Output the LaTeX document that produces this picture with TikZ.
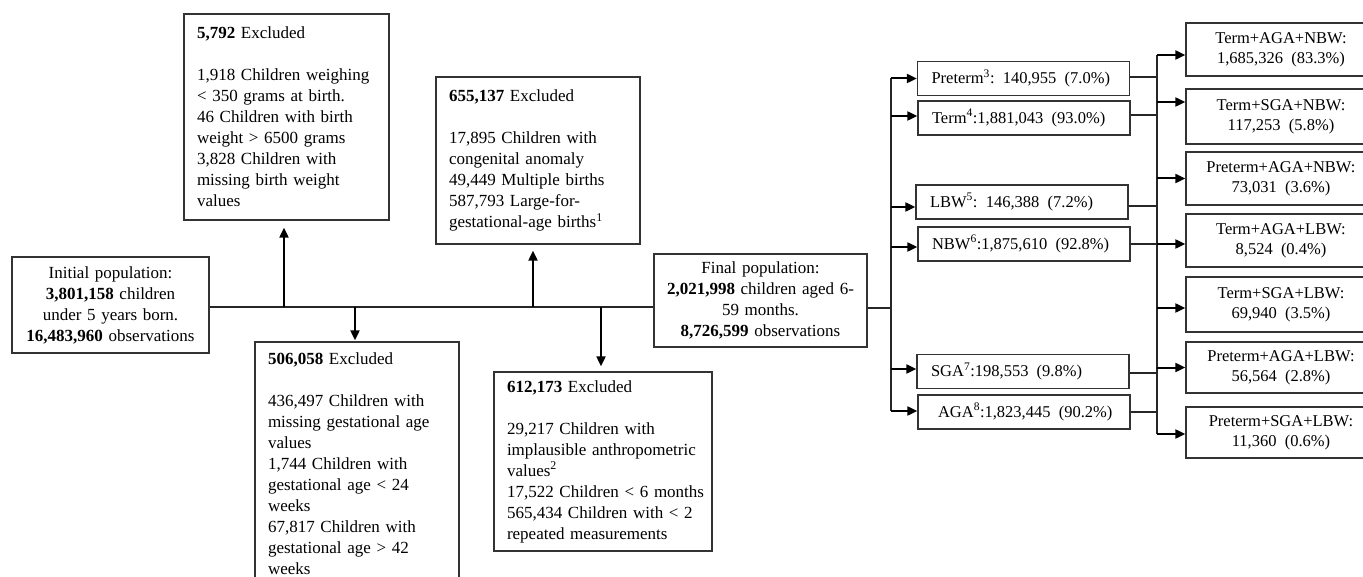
\documentclass[tikz,border=0pt]{standalone}
\usepackage{fontspec}
\setmainfont{Liberation Serif}
\usetikzlibrary{arrows.meta}
\begin{document}
\begin{tikzpicture}[x=1pt,y=-1pt,
  every node/.style={font=\fontsize{17}{21}\selectfont, text=black},
  box/.style={draw=black!80, line width=1.3pt, rectangle, inner ysep=0pt},
  exbox/.style={box, align=left, inner xsep=13pt},
  popbox/.style={box, align=center, inner xsep=4pt},
  midbox/.style={box, align=left, text width=184pt, inner xsep=14pt, minimum height=34pt, font=\fontsize{16.5}{20}\selectfont},
  rbox/.style={box, align=center, text width=182pt, inner xsep=4pt, minimum height=53pt, font=\fontsize{16.5}{20}\selectfont},
  ln/.style={draw=black!85, line width=1.2pt},
  arr/.style={draw=black, line width=2pt, -{Triangle[length=10pt,width=9pt]}}
]
\useasboundingbox (0,0) rectangle (1363,577);
\clip (0,0) rectangle (1363,577);

% population boxes
\node[popbox, text width=189pt, minimum height=96pt] (init) at (110.5,305)
  {Initial population:\\\textbf{3,801,158} children\\under 5 years born.\\\textbf{16,483,960} observations};
\node[popbox, text width=205pt, minimum height=93pt] (final) at (760.5,300.5)
  {Final population:\\\textbf{2,021,998} children aged 6-\\59 months.\\\textbf{8,726,599} observations};

% exclusion boxes
\node[exbox, text width=179pt, minimum height=206pt] (ex1) at (286.5,117)
  {\textbf{5,792} Excluded\\\mbox{}\\\mbox{1,918 Children weighing}\\\mbox{< 350 grams at birth.}\\\mbox{46 Children with birth}\\\mbox{weight > 6500 grams}\\\mbox{3,828 Children with}\\\mbox{missing birth weight}\\values};
\node[exbox, text width=178pt, minimum height=167pt] (ex2) at (538,160.5)
  {\textbf{655,137} Excluded\\\mbox{}\\\mbox{17,895 Children with}\\\mbox{congenital anomaly}\\\mbox{49,449 Multiple births}\\\mbox{587,793 Large-for-}\\\mbox{gestational-age births\textsuperscript{1}}};
\node[exbox, text width=178pt, minimum height=244pt] (ex3) at (357,464)
  {\textbf{506,058} Excluded\\\mbox{}\\\mbox{436,497 Children with}\\\mbox{missing gestational age}\\values\\\mbox{1,744 Children with}\\\mbox{gestational age < 24}\\weeks\\\mbox{67,817 Children with}\\\mbox{gestational age > 42}\\weeks};
\node[exbox, text width=192pt, minimum height=179pt] (ex4) at (603,461.5)
  {\textbf{612,173} Excluded\\\mbox{}\\\mbox{29,217 Children with}\\\mbox{implausible anthropometric}\\\mbox{values\textsuperscript{2}}\\\mbox{17,522 Children < 6 months}\\\mbox{565,434 Children with < 2}\\\mbox{repeated measurements}};

% middle boxes
\node[midbox] (pre)  at (1023.5,78.5) {\mbox{Preterm\textsuperscript{3}: 140,955\ \,(7.0\%)}};
\node[midbox] (term) at (1024,118)    {\mbox{Term\textsuperscript{4}:1,881,043\ \,(93.0\%)}};
\node[midbox] (lbw)  at (1022,202)    {\mbox{LBW\textsuperscript{5}: 146,388\ \,(7.2\%)}};
\node[midbox] (nbw)  at (1024,244)    {\mbox{NBW\textsuperscript{6}:1,875,610\ \,(92.8\%)}};
\node[midbox] (sga)  at (1023,371.5)  {\mbox{SGA\textsuperscript{7}:198,553\ \,(9.8\%)}};
\node[midbox] (aga)  at (1024,412)    {\mbox{\hspace*{6pt}AGA\textsuperscript{8}:1,823,445\ \,(90.2\%)}};

% right boxes
\node[rbox] (tan) at (1281,49.5)  {Term+AGA+NBW:\\1,685,326\ \,(83.3\%)};
\node[rbox, minimum height=55pt] (tsn) at (1281,116.5) {Term+SGA+NBW:\\117,253\ \,(5.8\%)};
\node[rbox] (pan) at (1281,178.5) {Preterm+AGA+NBW:\\73,031\ \,(3.6\%)};
\node[rbox] (tal) at (1281,240.5) {Term+AGA+LBW:\\8,524\ \,(0.4\%)};
\node[rbox, minimum height=55pt] (tsl) at (1281,304.5) {Term+SGA+LBW:\\69,940\ \,(3.5\%)};
\node[rbox, minimum height=51pt] (pal) at (1281,367.5) {Preterm+AGA+LBW:\\56,564\ \,(2.8\%)};
\node[rbox, minimum height=51pt] (psl) at (1281,432.5) {Preterm+SGA+LBW:\\11,360\ \,(0.6\%)};

% junction coordinates
\coordinate (m) at (0,307);
\coordinate (j1) at (284,307);
\coordinate (j2) at (355,307);
\coordinate (j3) at (533,307);
\coordinate (j4) at (601,307);
\coordinate (lv) at (891,308);
\coordinate (rv) at (1157,0);

% main line and exclusion arrows
\draw[ln] (init.east |- m) -- (final.west |- m);
\draw[arr, shorten >=7pt] (j1) -- (j1 |- ex1.south);
\draw[arr, shorten >=1pt] (j2) -- (j2 |- ex3.north);
\draw[arr, shorten >=6pt] (j3) -- (j3 |- ex2.south);
\draw[arr, shorten >=5pt] (j4) -- (j4 |- ex4.north);

% left branch to middle boxes
\foreach \n/\s in {pre/0, term/2, lbw/-5, nbw/-3, sga/2.5, aga/1}
  \coordinate (a\n) at ([yshift=\s pt]\n.west);
\draw[ln] (final.east |- lv) -- (lv);
\draw[ln] (lv |- apre) -- (lv |- aaga);
\foreach \n in {pre, term, lbw, nbw, sga, aga}
  \draw[arr] (a\n -| lv) -- (a\n);

% middle boxes to right vertical
\foreach \n/\s in {pre/1.5, term/3, lbw/-4, nbw/0, sga/-1.5, aga/0}
  \coordinate (b\n) at ([yshift=\s pt]\n.east);
\foreach \n in {pre, term, lbw, nbw, sga, aga}
  \draw[ln] (b\n) -- (b\n -| rv);

% right arrows
\foreach \n/\s in {tan/-5.5, tsn/14.5, pan/0, tal/-3.5, tsl/-3.5, pal/0, psl/-1.5}
  \coordinate (c\n) at ([yshift=\s pt]\n.west);
\draw[ln] (rv |- ctan) -- (rv |- cpsl);
\foreach \n in {tan, tsn, pan, tal, tsl, pal, psl}
  \draw[arr] (c\n -| rv) -- (c\n);
\end{tikzpicture}
\end{document}
